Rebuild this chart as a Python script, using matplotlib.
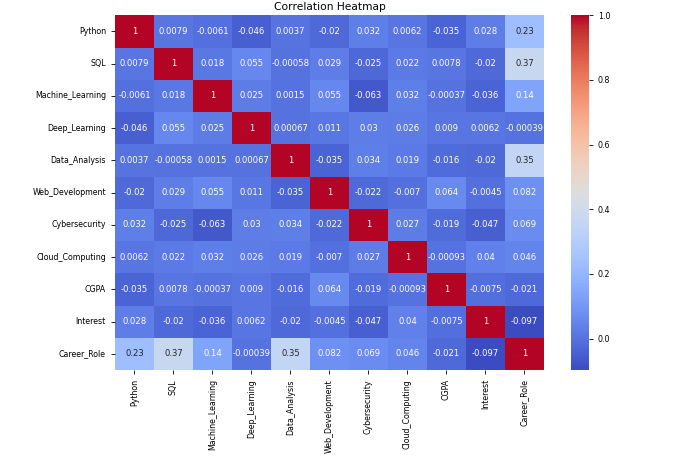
import matplotlib
matplotlib.use('Agg')
import matplotlib.pyplot as plt
import numpy as np
import pandas as pd
import seaborn as sns

features = ["Python", "SQL", "Machine_Learning", "Deep_Learning", "Data_Analysis",
            "Web_Development", "Cybersecurity", "Cloud_Computing", "CGPA",
            "Interest", "Career_Role"]

python_r = [1, 0.0079, -0.0061, -0.046, 0.0037, -0.02, 0.032, 0.0062, -0.035, 0.028, 0.23]
sql_r = [0.0079, 1, 0.018, 0.055, -0.00058, 0.029, -0.025, 0.022, 0.0078, -0.02, 0.37]
ml_r = [-0.0061, 0.018, 1, 0.025, 0.0015, 0.055, -0.063, 0.032, -0.00037, -0.036, 0.14]
dl_r = [-0.046, 0.055, 0.025, 1, 0.00067, 0.011, 0.03, 0.026, 0.009, 0.0062, -0.00039]
da_r = [0.0037, -0.00058, 0.0015, 0.00067, 1, -0.035, 0.034, 0.019, -0.016, -0.02, 0.35]
web_r = [-0.02, 0.029, 0.055, 0.011, -0.035, 1, -0.022, -0.007, 0.064, -0.0045, 0.082]
cyber_r = [0.032, -0.025, -0.063, 0.03, 0.034, -0.022, 1, 0.027, -0.019, -0.047, 0.069]
cloud_r = [0.0062, 0.022, 0.032, 0.026, 0.019, -0.007, 0.027, 1, -0.00093, 0.04, 0.046]
cgpa_r = [-0.035, 0.0078, -0.00037, 0.009, -0.016, 0.064, -0.019, -0.00093, 1, -0.0075, -0.021]
interest_r = [0.028, -0.02, -0.036, 0.0062, -0.02, -0.0045, -0.047, 0.04, -0.0075, 1, -0.097]
career_r = [0.23, 0.37, 0.14, -0.00039, 0.35, 0.082, 0.069, 0.046, -0.021, -0.097, 1]

corr = pd.DataFrame([python_r, sql_r, ml_r, dl_r, da_r, web_r, cyber_r, cloud_r,
                     cgpa_r, interest_r, career_r], index=features, columns=features)

fig = plt.figure(figsize=(6.8, 4.62), dpi=100)
ax = fig.add_axes([0.169, 0.199, 0.631, 0.768])
cax = fig.add_axes([0.840, 0.199, 0.026, 0.768])

sns.heatmap(corr, annot=True, cmap="coolwarm", ax=ax, cbar_ax=cax,
            annot_kws={"size": 6.1})
ax.set_title("Correlation Heatmap", fontsize=7.7, pad=4)
ax.tick_params(axis="both", labelsize=5.7, length=3, width=0.6)
cax.tick_params(labelsize=5.7, length=3, width=0.6)
plt.setp(ax.get_xticklabels(), rotation=90)
plt.setp(ax.get_yticklabels(), rotation=0)

fig.savefig("out.png", dpi=100)
